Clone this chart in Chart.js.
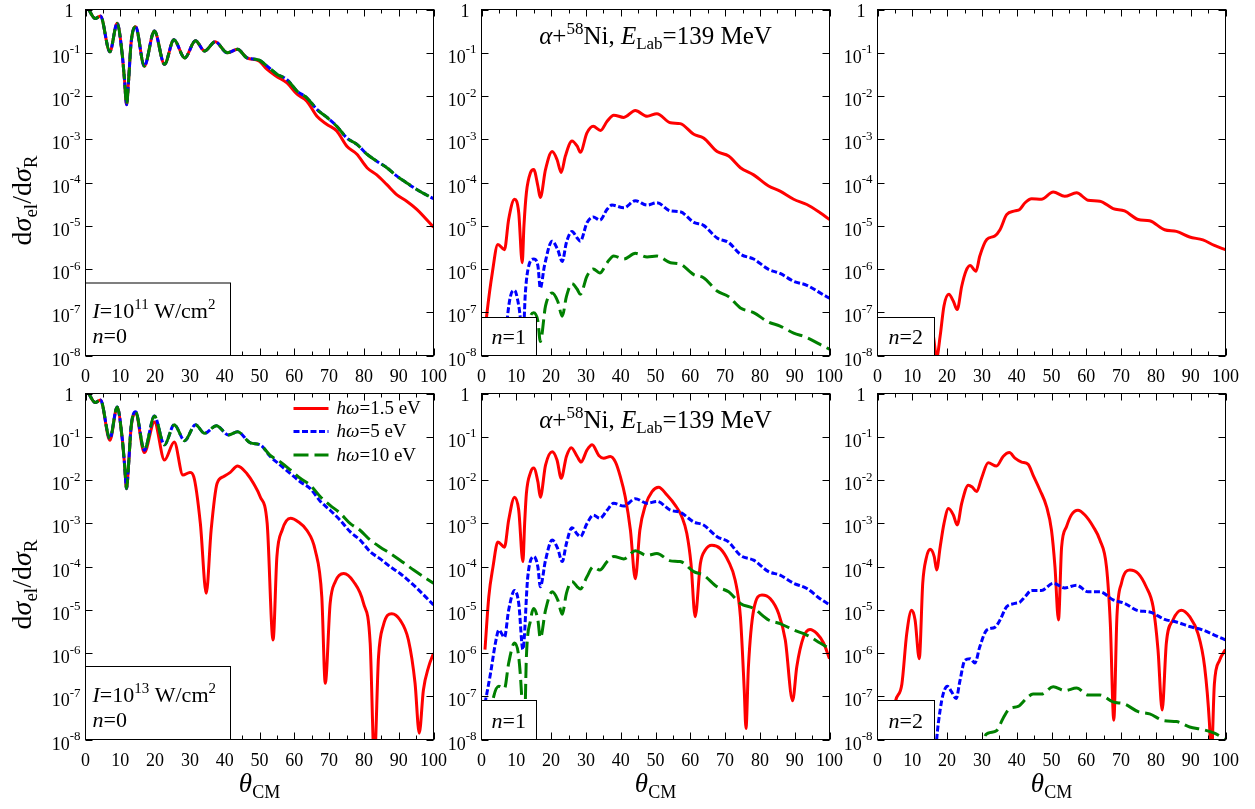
<!DOCTYPE html>
<html><head><meta charset="utf-8">
<script src="https://cdn.jsdelivr.net/npm/chart.js@4.4.1/dist/chart.umd.min.js"></script>
<style>
html,body{margin:0;padding:0;background:#fff;}
#wrap{position:relative;width:1255px;height:809px;overflow:hidden;background:#fff;}
#wrap canvas{position:absolute;left:0;top:0;}
</style></head>
<body><div id="wrap"></div>
<script>
// ---------- tick labels ----------
const xTickValues = [0,10,20,30,40,50,60,70,80,90,100];
const yTickExps = [0,-1,-2,-3,-4,-5,-6,-7,-8];

// ---------- I = 1e11 W/cm2, n = 0 (top-left) ----------
const tl_theta = [0.9,2.8,4.3,7.0,9.1,10.5,11.2,11.8,12.4,13.1,14.4,16.9,19.8,22.7,25.4,28.5,31.6,34.2,37.3,40.7,43.7,46.4,49.8,52.2,55,57.9,60.8,63.6,66.5,69.4,72.2,75.1,78,80.9,83.7,86.6,89.5,92.3,95.2,100];
const tl_red   = [1.0,0.62,0.71,0.105,0.48,0.10,0.024,0.0063,0.024,0.17,0.40,0.049,0.32,0.054,0.20,0.076,0.19,0.11,0.18,0.10,0.12,0.076,0.065,0.041,0.028,0.020,0.011,7.6e-3,3.4e-3,2.2e-3,1.55e-3,6.9e-4,4.5e-4,2.2e-4,1.5e-4,8.9e-5,5.2e-5,3.7e-5,2.4e-5,9.3e-6];
const tl_blue  = [1.0,0.62,0.71,0.105,0.48,0.10,0.024,0.0063,0.024,0.17,0.40,0.049,0.32,0.054,0.20,0.076,0.19,0.11,0.18,0.10,0.12,0.076,0.068,0.049,0.032,0.024,0.013,9.1e-3,4.9e-3,3.2e-3,2.0e-3,1.07e-3,7.6e-4,4.5e-4,3.1e-4,2.2e-4,1.4e-4,9.8e-5,6.9e-5,4.2e-5];
const tl_green = [1.0,0.62,0.71,0.105,0.48,0.10,0.024,0.0063,0.024,0.17,0.40,0.049,0.32,0.054,0.20,0.076,0.19,0.11,0.18,0.10,0.12,0.076,0.068,0.049,0.032,0.024,0.013,9.1e-3,4.9e-3,3.2e-3,2.0e-3,1.07e-3,7.6e-4,4.5e-4,3.1e-4,2.2e-4,1.4e-4,9.8e-5,6.9e-5,4.2e-5];

// ---------- I = 1e11, n = 1 (top-middle) ----------
const tm_red_theta = [1.0,1.6,3.1,4.7,6.6,7.8,9.5,10.7,11.7,12.2,12.9,14.1,15.0,16.2,16.9,18.4,20.3,21.7,22.9,24.1,26.0,27.5,28.4,30.3,32.1,34.2,36.1,38.0,40.9,44.2,47.6,50.4,54.3,57.1,61.0,63.8,67.7,71.0,74.4,78.2,82.5,85.8,89.7,93.5,97.3,100];
const tm_red = [3.3e-8,1.0e-7,8.1e-7,3.7e-6,2.8e-6,1.4e-5,4.1e-5,2.0e-5,1.4e-6,1.0e-5,5.8e-5,1.7e-4,2.0e-4,8.3e-5,4.5e-5,2.0e-4,5.2e-4,3.4e-4,1.7e-4,4.1e-4,9.1e-4,6.9e-4,5.0e-4,1.4e-3,2.0e-3,1.6e-3,2.6e-3,3.6e-3,3.2e-3,4.6e-3,3.4e-3,3.9e-3,2.4e-3,2.3e-3,1.3e-3,1.07e-3,5.2e-4,4.1e-4,2.2e-4,1.5e-4,8.3e-5,6.3e-5,4.1e-5,3.1e-5,2.0e-5,1.4e-5];
const tm_blue_theta = [6.5,7.4,8.3,9.5,10.4,11.2,11.8,12.6,13.6,15.0,16.2,16.9,18.1,20.3,21.9,23.2,24.4,26.0,27.5,28.4,30.3,32.1,34.0,36.1,37.5,40.9,44.2,47.6,50.4,54.3,57.1,61.0,63.8,67.7,71.0,74.4,78.2,82.5,85.8,89.7,93.5,97.3,100];
const tm_blue = [6.3e-9,6.8e-8,2.3e-7,3.2e-7,1.9e-7,6.8e-8,1.3e-8,2.8e-7,1.2e-6,1.7e-6,1.2e-6,3.6e-7,1.2e-6,4.4e-6,2.8e-6,1.5e-6,4.1e-6,7.4e-6,5.2e-6,4.4e-6,1.17e-5,1.6e-5,1.35e-5,2.4e-5,3.0e-5,2.6e-5,3.8e-5,3.0e-5,3.4e-5,2.2e-5,2.1e-5,1.2e-5,1.02e-5,5.2e-6,4.1e-6,2.2e-6,1.7e-6,9.8e-7,7.9e-7,5.2e-7,4.2e-7,2.8e-7,2.1e-7];
const tm_green_theta = [11.0,12.5,13.6,15.0,16.2,16.9,18.4,20.3,21.9,23.2,24.4,26.0,27.5,28.4,30.3,32.1,34.0,36.1,38.0,40.9,44.2,47.6,50.4,54.3,57.1,61.0,63.8,67.7,71.0,74.4,78.2,82.5,85.8,89.7,93.5,97.3,100];
const tm_green = [3.2e-9,1.0e-8,5.8e-8,9.8e-8,6.3e-8,2.1e-8,1.4e-7,2.8e-7,1.8e-7,8.1e-8,2.3e-7,4.6e-7,3.4e-7,2.6e-7,6.8e-7,1.0e-6,8.1e-7,1.4e-6,2.0e-6,1.7e-6,2.3e-6,1.9e-6,2.0e-6,1.4e-6,1.3e-6,7.4e-7,6.3e-7,3.1e-7,2.3e-7,1.26e-7,9.8e-8,5.9e-8,4.8e-8,3.3e-8,2.6e-8,1.8e-8,1.4e-8];

// ---------- I = 1e11, n = 2 (top-right) ----------
const tr_red_theta = [14.0,16.0,17.0,18.0,19.1,20.5,21.8,22.9,24.2,25.4,26.6,28.3,29.4,31.4,33.7,35.2,37.1,39.5,40.9,42.4,44.3,47.1,50.5,53.8,57.2,60.5,63.9,67.7,71.0,74.9,78.2,82.5,85.9,89.7,93.5,96.8,100];
const tr_red = [6.0e-8,3.0e-8,8.9e-9,2.8e-8,1.4e-7,2.6e-7,1.8e-7,1.15e-7,4.0e-7,8.9e-7,1.2e-6,8.9e-7,2.0e-6,4.8e-6,5.8e-6,8.1e-6,1.8e-5,2.2e-5,2.4e-5,3.4e-5,4.2e-5,4.1e-5,6.0e-5,4.8e-5,5.8e-5,3.9e-5,3.7e-5,2.5e-5,2.2e-5,1.4e-5,1.3e-5,8.1e-6,7.4e-6,5.5e-6,4.7e-6,3.5e-6,2.8e-6];

// ---------- I = 1e13, n = 0 (bottom-left) ----------
const bl_red_theta = [0.9,2.8,4.3,7.0,9.1,10.5,11.2,11.8,12.4,13.1,14.4,16.9,19.8,22.7,25.5,28,30,31.1,33,34.7,36.1,37.8,39.7,41.6,43.7,46.4,48.3,50.2,52.2,53.9,55,56.5,58.9,61.2,63.6,66,67.9,68.9,70.3,71.8,74.2,77,79.9,81.8,83,84.2,85.6,88,90.4,92.8,94.7,95.9,97.1,98.6,100];
const bl_red = [1.0,0.62,0.71,0.083,0.48,0.10,0.024,0.0063,0.024,0.16,0.35,0.043,0.22,0.029,0.076,0.013,0.015,0.012,1.0e-3,2.4e-5,6.9e-4,8.3e-3,0.012,0.015,0.021,0.014,8.3e-3,4.1e-3,1.0e-3,2.0e-6,1.7e-4,6.9e-4,1.3e-3,1.07e-3,6.9e-4,2.4e-4,2.0e-5,2.0e-7,1.4e-5,4.5e-5,6.9e-5,4.5e-5,1.4e-5,1.7e-6,3.2e-9,8.1e-7,4.4e-6,8.1e-6,5.8e-6,2.0e-6,2.0e-7,1.4e-8,1.4e-7,4.8e-7,9.8e-7];
const bl_theta = [0.9,2.8,4.3,7.0,9.1,10.5,11.2,11.8,12.4,13.1,14.4,16.9,19.8,22.7,25.5,28.5,31.6,34.2,37.6,41.1,43.7,47.4,50.2,53.1,56,58.9,61.7,64.6,67.5,70.3,73.2,76.1,78.9,81.8,84.7,87.6,90.4,94.3,100];
const bl_blue  = [1.0,0.62,0.71,0.091,0.49,0.10,0.024,0.0063,0.024,0.17,0.38,0.049,0.30,0.065,0.19,0.081,0.19,0.12,0.18,0.11,0.13,0.072,0.065,0.035,0.022,0.014,9.1e-3,6.3e-3,3.2e-3,2.0e-3,1.17e-3,6.3e-4,4.1e-4,2.2e-4,1.5e-4,9.8e-5,6.9e-5,3.7e-5,1.3e-5];
const bl_green = [1.0,0.62,0.71,0.091,0.49,0.10,0.024,0.0063,0.024,0.17,0.38,0.049,0.30,0.065,0.19,0.081,0.19,0.12,0.18,0.11,0.13,0.072,0.065,0.037,0.026,0.017,0.011,7.6e-3,4.1e-3,2.6e-3,1.7e-3,9.8e-4,6.9e-4,4.1e-4,2.8e-4,2.0e-4,1.4e-4,8.3e-5,4.1e-5];

// ---------- I = 1e13, n = 1 (bottom-middle) ----------
const bm_red_theta = [1.0,2.1,3.3,4.7,6.6,7.8,9.5,10.7,11.9,12.4,12.9,14.1,15.0,16.2,16.9,18.4,20.3,21.7,22.9,24.4,25.8,27.5,28.6,30.3,31.8,33.7,35.1,37.0,38.5,39.9,41.3,42.8,44.2,45.5,47.1,49.0,50.9,53.3,55.7,57.6,59.0,60.2,61.4,62.9,64.3,66.2,68.6,71.0,72.9,74.4,75.5,76.0,76.7,78.2,80.6,83.0,85.4,87.3,89.4,90.6,92.5,94.4,96.4,98.3,100];
const bm_red = [1.2e-6,2.0e-5,9.8e-5,3.7e-4,2.8e-4,1.17e-3,4.0e-3,2.0e-3,1.3e-4,1.0e-3,4.9e-3,0.015,0.019,9.1e-3,4.0e-3,0.022,0.045,0.029,0.011,0.035,0.056,0.035,0.026,0.049,0.065,0.037,0.032,0.035,0.026,0.012,4.1e-3,6.9e-4,5.2e-5,6.9e-4,2.6e-3,5.4e-3,6.8e-3,4.5e-3,2.6e-3,1.4e-3,5.8e-4,1.17e-4,6.9e-6,1.17e-4,2.4e-4,3.1e-4,2.6e-4,1.3e-4,4.8e-5,6.9e-6,1.4e-7,1.8e-8,4.8e-7,9.8e-6,2.2e-5,1.8e-5,8.1e-6,2.0e-6,7.9e-8,4.8e-7,2.3e-6,3.5e-6,2.8e-6,1.7e-6,7.4e-7];
const bm_blue_theta = [1.0,2.6,4.0,5.0,6.6,7.8,9.5,10.7,11.9,13.3,15.0,16.2,16.9,18.4,20.3,21.9,23.2,24.4,26.0,27.5,28.4,30.3,32.1,34.0,36.1,38.0,40.9,44.2,47.6,50.4,54.3,57.1,61.0,63.8,67.7,71.0,74.4,78.2,82.5,85.8,89.7,93.5,97.3,100];
const bm_blue = [6.8e-8,3.4e-7,1.7e-6,3.4e-6,2.3e-6,9.8e-6,2.8e-5,1.4e-5,1.2e-6,5.8e-5,1.7e-4,9.8e-5,3.4e-5,1.4e-4,4.1e-4,2.6e-4,1.3e-4,3.4e-4,7.9e-4,5.6e-4,4.9e-4,9.8e-4,1.55e-3,1.3e-3,2.0e-3,2.9e-3,2.5e-3,3.7e-3,2.9e-3,3.2e-3,2.0e-3,1.8e-3,1.07e-3,9.1e-4,4.9e-4,3.7e-4,1.8e-4,1.4e-4,7.6e-5,6.3e-5,4.1e-5,3.1e-5,1.8e-5,1.3e-5];
const bm_green_theta = [1.6,3.5,5.0,6.6,7.8,9.5,10.7,11.7,12.2,12.9,14.1,15.0,16.2,16.9,18.4,20.3,21.9,23.2,24.4,26.0,27.5,28.4,30.3,32.1,34.0,36.1,38.0,40.9,44.2,47.6,50.4,54.3,57.1,61.0,63.8,67.7,71.0,74.4,78.2,82.5,85.8,89.7,93.5,97.3,100];
const bm_green = [1.0e-8,9.8e-8,1.7e-7,1.5e-7,5.8e-7,1.7e-6,8.1e-7,5.8e-8,5.0e-9,8.1e-7,5.8e-6,1.07e-5,5.8e-6,2.2e-6,9.8e-6,2.6e-5,1.7e-5,7.9e-6,2.4e-5,4.5e-5,3.4e-5,3.0e-5,5.8e-5,9.8e-5,8.3e-5,1.3e-4,1.7e-4,1.5e-4,2.3e-4,1.8e-4,2.0e-4,1.35e-4,1.3e-4,7.6e-5,6.3e-5,3.4e-5,2.6e-5,1.4e-5,1.07e-5,5.8e-6,4.8e-6,3.4e-6,2.6e-6,1.7e-6,1.26e-6];

// ---------- I = 1e13, n = 2 (bottom-right) ----------
const br_red_theta = [3.0,5.1,7.0,8.4,9.8,10.8,12.0,13.0,14.0,15.1,16.3,17.0,18.0,19.1,20.4,21.8,22.9,24.2,26.1,27.2,28.5,29.9,31.8,34.2,36.1,37.9,39.5,41.4,43.3,44.7,46.7,48.6,50.0,51.0,52.0,52.9,54.3,55.7,57.6,59.6,62.0,63.9,65.8,66.9,67.9,68.8,70.1,72.5,74.9,77.2,79.2,80.6,81.8,83.0,84.9,87.3,89.7,92.1,94.0,95.4,95.9,96.8,98.3,100];
const br_red = [5.0e-9,7.4e-8,1.9e-7,2.8e-6,9.8e-6,5.8e-6,7.4e-7,4.1e-5,1.55e-4,2.5e-4,1.7e-4,8.3e-5,2.8e-4,9.8e-4,2.2e-3,1.55e-3,9.1e-4,2.9e-3,7.6e-3,6.9e-3,5.4e-3,0.011,0.025,0.021,0.035,0.043,0.032,0.026,0.023,0.013,5.8e-3,2.4e-3,6.9e-4,9.8e-5,5.8e-6,2.8e-4,8.3e-4,1.55e-3,2.0e-3,1.55e-3,8.3e-4,4.1e-4,9.8e-5,4.8e-6,2.8e-8,6.9e-6,4.1e-5,8.3e-5,6.9e-5,3.4e-5,1.17e-5,1.2e-6,4.8e-8,1.7e-6,5.8e-6,9.8e-6,6.9e-6,2.8e-6,4.8e-7,2.3e-8,3.2e-9,1.9e-7,6.8e-7,1.2e-6];
const br_blue_theta = [16.5,17.0,18.0,18.9,20.1,21.3,22.6,23.7,25.1,26.6,28.0,29.4,31.4,33.7,35.2,37.1,39.5,40.9,42.4,44.3,47.1,50.5,53.8,57.2,60.5,63.9,67.7,71.0,74.9,78.2,82.5,85.9,89.7,93.5,96.8,100];
const br_blue = [2.5e-9,1.0e-8,4.8e-8,1.15e-7,1.7e-7,1.26e-7,8.9e-8,2.3e-7,6.8e-7,7.4e-7,5.9e-7,1.4e-6,3.4e-6,3.9e-6,5.8e-6,1.17e-5,1.4e-5,1.5e-5,2.0e-5,2.8e-5,2.8e-5,4.1e-5,3.2e-5,3.7e-5,2.6e-5,2.6e-5,1.7e-5,1.4e-5,9.5e-6,8.9e-6,6.0e-6,5.2e-6,4.1e-6,3.4e-6,2.6e-6,2.0e-6];
const br_green_theta = [30.0,30.6,31.8,34.2,36.1,38.0,40.4,42.8,44.7,47.1,50.5,53.8,57.2,60.5,63.9,67.7,71.0,74.9,78.2,82.5,85.9,89.7,93.5,96.8,100];
const br_green = [4.0e-9,1.0e-8,1.4e-8,1.6e-8,3.1e-8,5.2e-8,5.8e-8,8.9e-8,1.12e-7,1.12e-7,1.66e-7,1.35e-7,1.55e-7,1.07e-7,1.07e-7,7.4e-8,6.6e-8,4.4e-8,3.9e-8,2.7e-8,2.6e-8,1.95e-8,1.7e-8,1.4e-8,1.0e-8];

// ---------- series labels ----------
const seriesLabels = ['1.5 eV','5 eV','10 eV'];

// ---------- styles ----------
const SERIF = "'Liberation Serif','Times New Roman',serif";
const F = (px, it) => (it ? 'italic ' : '') + px + 'px ' + SERIF;
const STY = {
  red:   {color:'#ff0000', dash:[], width:3},
  blue:  {color:'#0000ff', dash:[6,2.5], width:3},
  green: {color:'#008000', dash:[15,6], width:3}
};
const W = 1255, H = 809;

function pts(th, v){ return th.map((t,i)=>({x:t, y:v[i]})); }
function ds(key, th, v, order){
  const s = STY[key];
  return {data: pts(th, v), borderColor: s.color, borderWidth: s.width, borderDash: s.dash,
          cubicInterpolationMode: 'monotone', fill: false, pointRadius: 0, order: order};
}

function drawRuns(ctx, runs, x, y, align){
  let w = 0;
  runs.forEach(r => { ctx.font = r.f; r.w = ctx.measureText(r.t).width; w += r.w; });
  let cx = align === 'center' ? x - w/2 : (align === 'right' ? x - w : x);
  ctx.textAlign = 'left'; ctx.textBaseline = 'alphabetic';
  runs.forEach(r => { ctx.font = r.f; ctx.fillText(r.t, cx, y + (r.dy || 0)); cx += r.w; });
}

const titleRuns = () => [
  {t:'\u03b1', f:F(25,true)}, {t:'+', f:F(25)}, {t:'58', f:F(17), dy:-10},
  {t:'Ni, ', f:F(25)}, {t:'E', f:F(25,true)}, {t:'Lab', f:F(17), dy:5}, {t:'=139 MeV', f:F(25)}
];

const panels = [
  {L:85.5, R:433.5, T:9.5, B:355.5, sets:[ds('red',tl_theta,tl_red,2), ds('blue',tl_theta,tl_blue,1), ds('green',tl_theta,tl_green,0)],
   box:{w:145, h:72.5, lines:[
     {runs:[{t:'I',f:F(22,true)},{t:'=10',f:F(22)},{t:'11',f:F(15),dy:-9},{t:' W/cm',f:F(22)},{t:'2',f:F(15),dy:-9}], dx:7, dy:35},
     {runs:[{t:'n',f:F(22,true)},{t:'=0',f:F(22)}], dx:7, dy:60}]},
   yTitle:true},
  {L:481.5, R:829.5, T:9.5, B:355.5, sets:[ds('red',tm_red_theta,tm_red,2), ds('blue',tm_blue_theta,tm_blue,1), ds('green',tm_green_theta,tm_green,0)],
   box:{w:55, h:38, lines:[{runs:[{t:'n',f:F(22,true)},{t:'=1',f:F(22)}], dx:10, dy:26}]},
   title:true},
  {L:877.5, R:1225.5, T:9.5, B:355.5, sets:[ds('red',tr_red_theta,tr_red,2)],
   box:{w:57, h:38, lines:[{runs:[{t:'n',f:F(22,true)},{t:'=2',f:F(22)}], dx:11, dy:26}]}},
  {L:85.5, R:433.5, T:393.5, B:739.5, sets:[ds('red',bl_red_theta,bl_red,2), ds('blue',bl_theta,bl_blue,1), ds('green',bl_theta,bl_green,0)],
   box:{w:145, h:73, lines:[
     {runs:[{t:'I',f:F(22,true)},{t:'=10',f:F(22)},{t:'13',f:F(15),dy:-9},{t:' W/cm',f:F(22)},{t:'2',f:F(15),dy:-9}], dx:7, dy:35},
     {runs:[{t:'n',f:F(22,true)},{t:'=0',f:F(22)}], dx:7, dy:60}]},
   yTitle:true, xTitle:true, legend:true},
  {L:481.5, R:829.5, T:393.5, B:739.5, sets:[ds('red',bm_red_theta,bm_red,2), ds('blue',bm_blue_theta,bm_blue,1), ds('green',bm_green_theta,bm_green,0)],
   box:{w:55, h:39, lines:[{runs:[{t:'n',f:F(22,true)},{t:'=1',f:F(22)}], dx:10, dy:27}]},
   title:true, xTitle:true},
  {L:877.5, R:1225.5, T:393.5, B:739.5, sets:[ds('red',br_red_theta,br_red,2), ds('blue',br_blue_theta,br_blue,1), ds('green',br_green_theta,br_green,0)],
   box:{w:57, h:39, lines:[{runs:[{t:'n',f:F(22,true)},{t:'=2',f:F(22)}], dx:11, dy:27}]},
   xTitle:true}
];

function decor(p, idx){
  return {
    id: 'decor' + idx,
    afterDatasetsDraw(chart){
      const ctx = chart.ctx, a = chart.chartArea, xs = chart.scales.x, ys = chart.scales.y;
      ctx.save();
      ctx.strokeStyle = '#000'; ctx.fillStyle = '#000'; ctx.lineWidth = 1; ctx.setLineDash([]);
      // ticks (inward, mirrored)
      ctx.beginPath();
      for (let v = 0; v <= 100; v += 5){
        const px = Math.round(xs.getPixelForValue(v)) + 0.5;
        const len = (v % 10 === 0) ? 7 : 4;
        ctx.moveTo(px, a.bottom); ctx.lineTo(px, a.bottom - len);
        ctx.moveTo(px, a.top); ctx.lineTo(px, a.top + len);
      }
      yTickExps.forEach(e => {
        const py = Math.round(ys.getPixelForValue(Math.pow(10, e))) + 0.5;
        ctx.moveTo(a.left, py); ctx.lineTo(a.left + 7, py);
        ctx.moveTo(a.right, py); ctx.lineTo(a.right - 7, py);
      });
      ctx.stroke();
      ctx.strokeRect(a.left, a.top, a.right - a.left, a.bottom - a.top);
      // label box
      if (p.box){
        const bx = a.left, by = a.bottom - p.box.h;
        ctx.fillStyle = '#fff'; ctx.fillRect(bx, by, p.box.w, p.box.h);
        ctx.strokeRect(bx, by, p.box.w, p.box.h);
        ctx.fillStyle = '#000';
        p.box.lines.forEach(l => drawRuns(ctx, l.runs, bx + l.dx, by + l.dy, 'left'));
      }
      // tick labels
      ctx.fillStyle = '#000';
      xTickValues.forEach(v => drawRuns(ctx, [{t:String(v), f:F(18)}], xs.getPixelForValue(v), a.bottom + 26, 'center'));
      yTickExps.forEach(e => {
        const py = ys.getPixelForValue(Math.pow(10, e));
        if (e === 0) drawRuns(ctx, [{t:'1', f:F(18)}], a.left - 12, py + 7, 'right');
        else drawRuns(ctx, [{t:'10', f:F(18)}, {t:String(e), f:F(13), dy:-9.5}], a.left - 5, py + 10, 'right');
      });
      // title
      if (p.title) drawRuns(ctx, titleRuns(), (a.left + a.right)/2, a.top + 34, 'center');
      // legend
      if (p.legend){
        const keys = ['red','blue','green'];
        const yy = [15, 38, 61.5];
        keys.forEach((k, i) => {
          const s = STY[k], y = a.top + yy[i];
          ctx.save(); ctx.strokeStyle = s.color; ctx.lineWidth = s.width; ctx.setLineDash(s.dash);
          ctx.beginPath(); ctx.moveTo(a.right - 140, y); ctx.lineTo(a.right - 105, y); ctx.stroke(); ctx.restore();
          drawRuns(ctx, [{t:'h', f:F(19,true)}, {t:'\u03c9', f:F(19,true)}, {t:'=' + seriesLabels[i], f:F(19)}], a.right - 97, y + 5.5, 'left');
        });
      }
      // axis titles
      if (p.yTitle){
        ctx.save();
        ctx.translate(31, (a.top + a.bottom)/2 + 18);
        ctx.rotate(-Math.PI/2);
        drawRuns(ctx, [{t:'d', f:F(28)}, {t:'\u03c3', f:F(28,true)}, {t:'el', f:F(19), dy:6},
                       {t:'/d', f:F(28)}, {t:'\u03c3', f:F(28,true)}, {t:'R', f:F(19), dy:6}], 0, 0, 'center');
        ctx.restore();
      }
      if (p.xTitle){
        drawRuns(ctx, [{t:'\u03b8', f:F(27,true)}, {t:'CM', f:F(18), dy:6}], (a.left + a.right)/2, 792, 'center');
      }
      ctx.restore();
    }
  };
}

const wrap = document.getElementById('wrap');
panels.forEach((p, idx) => {
  const c = document.createElement('canvas');
  c.width = W; c.height = H; c.style.width = W + 'px'; c.style.height = H + 'px';
  wrap.appendChild(c);
  new Chart(c.getContext('2d'), {
    type: 'line',
    data: {datasets: p.sets},
    options: {
      responsive: false, animation: false, devicePixelRatio: 1, events: [],
      layout: {padding: {left: p.L, top: p.T, right: W - p.R, bottom: H - p.B}},
      plugins: {legend: {display: false}, tooltip: {enabled: false}, title: {display: false}},
      scales: {
        x: {type: 'linear', min: 0, max: 100, display: false},
        y: {type: 'logarithmic', min: 1e-8, max: 1, display: false}
      },
      elements: {point: {radius: 0}, line: {capBezierPoints: true}}
    },
    plugins: [decor(p, idx)]
  });
});
</script>
</body></html>
